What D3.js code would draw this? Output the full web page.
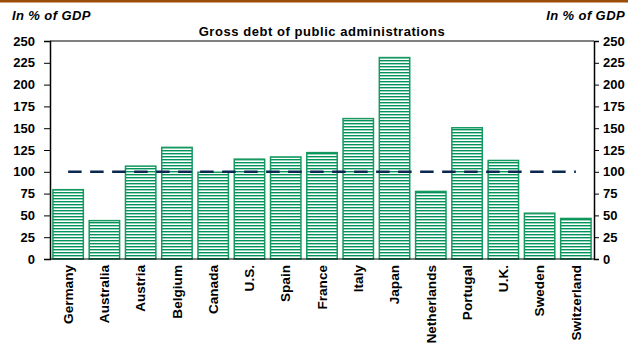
<!DOCTYPE html>
<html><head><meta charset="utf-8">
<script src="https://cdn.jsdelivr.net/npm/d3@7"></script>
<style>body{margin:0;background:#fff}svg{display:block}text{font-family:Arial,"Liberation Sans",sans-serif}</style>
</head><body>
<svg id="c" width="628" height="343"></svg>
<script>
const categories = ["Germany","Australia","Austria","Belgium","Canada","U.S.","Spain","France","Italy","Japan","Netherlands","Portugal","U.K.","Sweden","Switzerland"];
const values = [79.5,44,106.5,128,99.5,114.5,117,122,161,231,77.5,150.5,113,52.5,46.5];
const yTicks = [0,25,50,75,100,125,150,175,200,225,250];
const refValue = 100;
const title = "Gross debt of public administrations";
const unitLabel = "In % of GDP";

const svg = d3.select("#c");
const L = 50, R = 594, T = 41, B = 259;
const FS = 13;
const x = d3.scaleBand().domain(categories).range([L, R]).paddingInner(0.12).paddingOuter(0.06);
const y = d3.scaleLinear().domain([0, 250]).range([B, T]);

const defs = svg.append("defs");
const pat = defs.append("pattern").attr("id","stripes").attr("patternUnits","userSpaceOnUse")
  .attr("width",6).attr("height",3);
pat.append("rect").attr("width",6).attr("height",3).attr("fill","#fff");
pat.append("rect").attr("y",0).attr("width",6).attr("height",1.4).attr("fill","#00935a");

// top brown rule
svg.append("rect").attr("x",0).attr("y",0).attr("width",628).attr("height",2.5).attr("fill","#9b4c08");

// bars
svg.append("g").selectAll("rect").data(categories).join("rect")
  .attr("x", d => x(d)+0.75)
  .attr("y", (d,i) => y(values[i]))
  .attr("width", x.bandwidth()-1.5)
  .attr("height", (d,i) => y(0)-y(values[i]))
  .attr("fill","url(#stripes)")
  .attr("stroke","#17995f").attr("stroke-width",1.5);

// frame
svg.append("line").attr("x1",L).attr("x2",R).attr("y1",T).attr("y2",T).attr("stroke","#000").attr("stroke-width",1);
svg.append("line").attr("x1",L).attr("x2",R).attr("y1",B).attr("y2",B).attr("stroke","#000").attr("stroke-width",1.2);

// reference line
svg.append("line")
  .attr("x1", x(categories[0]) + x.bandwidth()/2)
  .attr("x2", x(categories[categories.length-1]) + x.bandwidth()/2)
  .attr("y1", y(refValue)).attr("y2", y(refValue))
  .attr("stroke","#0b2850").attr("stroke-width",2.5).attr("stroke-dasharray","13.5,8.5");

// axes
const la = svg.append("g").attr("transform",`translate(${L},0)`)
  .call(d3.axisLeft(y).tickValues(yTicks).tickSize(6).tickPadding(9));
const ra = svg.append("g").attr("transform",`translate(${R},0)`)
  .call(d3.axisRight(y).tickValues(yTicks).tickSize(5).tickPadding(4));
[la, ra].forEach(g => {
  g.selectAll("path").attr("stroke","#000").attr("stroke-width",1.5);
  g.selectAll("line").attr("stroke","#000").attr("stroke-width",1);
  g.selectAll("text").attr("font-size",FS).attr("font-weight","bold").attr("fill","#000")
    .attr("font-family","Arial, 'Liberation Sans', sans-serif");
});

// x labels
svg.append("g").selectAll("text").data(categories).join("text")
  .attr("transform", d => `translate(${x(d)+x.bandwidth()/2},265) rotate(-90)`)
  .attr("text-anchor","end").attr("dy","0.35em")
  .attr("font-size",13.6).attr("font-weight","bold").attr("fill","#000")
  .text(d => d);

// title & unit labels
svg.append("text").attr("x",322).attr("y",36).attr("text-anchor","middle")
  .attr("font-size",FS).attr("letter-spacing",0.55).attr("font-weight","bold").text(title);
svg.append("text").attr("x",12).attr("y",20).attr("font-size",FS).attr("letter-spacing",0.4).attr("font-weight","bold")
  .attr("font-style","italic").text(unitLabel);
svg.append("text").attr("x",625).attr("y",20).attr("text-anchor","end").attr("font-size",FS).attr("letter-spacing",0.4)
  .attr("font-weight","bold").attr("font-style","italic").text(unitLabel);
</script>
</body></html>
